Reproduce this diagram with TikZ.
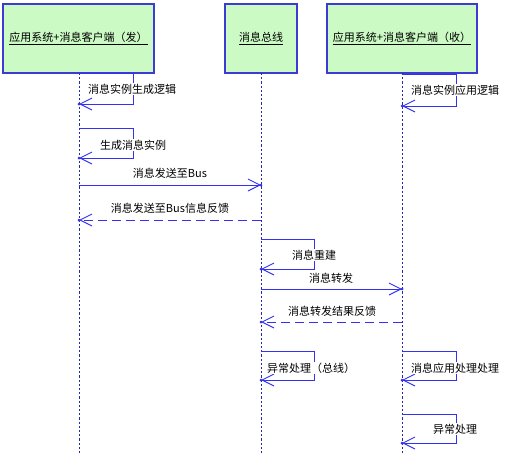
\documentclass[tikz,border=0pt]{standalone}
\usepackage{fontspec}
\setmainfont{Noto Sans CJK SC}
\usetikzlibrary{arrows.meta}
\definecolor{boxfill}{RGB}{204,250,196}
\definecolor{boxdraw}{RGB}{60,60,210}
\definecolor{msgblue}{RGB}{50,50,240}
\definecolor{lifeblue}{RGB}{40,40,170}
\tikzset{
  objbox/.style={draw=boxdraw, fill=boxfill, line width=1.1pt, inner sep=0pt, font=\fontsize{11}{13}\selectfont},
  lifeline/.style={draw=lifeblue, line width=0.9pt, dash pattern=on 2.2pt off 2pt},
  msg/.style={draw=msgblue, line width=0.9pt, -{Straight Barb[length=12pt,width=12pt,line width=0.9pt]}},
  retmsg/.style={msg, dash pattern=on 9pt off 5pt},
  lbl/.style={font=\fontsize{11}{13}\selectfont, fill=white, inner sep=0.5pt},
  tipdot/.style={fill=msgblue, circle, inner sep=0pt, minimum size=3pt}
}
\begin{document}
\begin{tikzpicture}[x=1pt,y=-1pt]
\useasboundingbox (0,0) rectangle (517,458);
% objects
\node[objbox, minimum width=151pt, minimum height=69pt] (A) at (78.5,38.5) {\underline{应用系统+消息客户端（发）}};
\node[objbox, minimum width=72pt, minimum height=69pt] (B) at (261,38.5) {\underline{消息总线}};
\node[objbox, minimum width=150pt, minimum height=69pt] (C) at (402,38.5) {\underline{应用系统+消息客户端（收）}};
% lifeline ends
\coordinate (Aend) at (79,455);
\coordinate (Bend) at (261,455);
\coordinate (Cend) at (402,455);
\draw[lifeline] (79,73) -- (Aend);
\draw[lifeline] (261,73) -- (Bend);
\draw[lifeline] (402,73) -- (Cend);
% self message 1 (left)
\coordinate (s1a) at (79,73);
\coordinate (s1b) at (79,104);
\draw[msg] (s1a) -- (133,73) -- (133,104) -- (s1b);
\node[tipdot] (d1) at (s1b) {};
\node[lbl] (l1) at (132,89) {消息实例生成逻辑};
% self message 2 (left)
\coordinate (s2a) at (79,128);
\coordinate (s2b) at (79,158);
\draw[msg] (s2a) -- (133,128) -- (133,158) -- (s2b);
\node[tipdot] (d2) at (s2b) {};
\node[lbl] (l2) at (133,145) {生成消息实例};
% message 3
\coordinate (m3a) at (79,185);
\coordinate (m3b) at (261,185);
\draw[msg] (m3a) -- (m3b);
\node[tipdot] (d3) at (m3b) {};
\node[lbl] (l3) at (170,173) {消息发送至Bus};
% message 4
\coordinate (m4a) at (261,220);
\coordinate (m4b) at (79,220);
\draw[retmsg] (m4a) -- (m4b);
\node[tipdot] (d4) at (m4b) {};
\node[lbl] (l4) at (170,208) {消息发送至Bus信息反馈};
% self message 5 (middle)
\coordinate (s5a) at (261,239);
\coordinate (s5b) at (261,269);
\draw[msg] (s5a) -- (314,239) -- (314,269) -- (s5b);
\node[tipdot] (d5) at (s5b) {};
\node[lbl] (l5) at (314,255) {消息重建};
% message 6
\coordinate (m6a) at (261,289);
\coordinate (m6b) at (402,289);
\draw[msg] (m6a) -- (m6b);
\node[tipdot] (d6) at (m6b) {};
\node[lbl] (l6) at (331,278) {消息转发};
% message 7
\coordinate (m7a) at (402,322);
\coordinate (m7b) at (261,322);
\draw[retmsg] (m7a) -- (m7b);
\node[tipdot] (d7) at (m7b) {};
\node[lbl] (l7) at (332,311) {消息转发结果反馈};
% self message 8 (middle)
\coordinate (s8a) at (261,351);
\coordinate (s8b) at (261,380);
\draw[msg] (s8a) -- (314,351) -- (314,380) -- (s8b);
\node[tipdot] (d8) at (s8b) {};
\node[lbl] (l8) at (311,368) {异常处理（总线）};
% self message 11 (right, top)
\coordinate (s11a) at (402,74);
\coordinate (s11b) at (402,106);
\draw[msg] (s11a) -- (456,74) -- (456,106) -- (s11b);
\node[tipdot] (d11) at (s11b) {};
\node[lbl] (l11) at (455,90) {消息实例应用逻辑};
% self message 9 (right)
\coordinate (s9a) at (402,351);
\coordinate (s9b) at (402,380);
\draw[msg] (s9a) -- (456,351) -- (456,380) -- (s9b);
\node[tipdot] (d9) at (s9b) {};
\node[lbl] (l9) at (455,368) {消息应用处理处理};
% self message 10 (right)
\coordinate (s10a) at (402,414);
\coordinate (s10b) at (402,443);
\draw[msg] (s10a) -- (456,414) -- (456,443) -- (s10b);
\node[tipdot] (d10) at (s10b) {};
\node[lbl] (l10) at (455,429) {异常处理};
\end{tikzpicture}
\end{document}
